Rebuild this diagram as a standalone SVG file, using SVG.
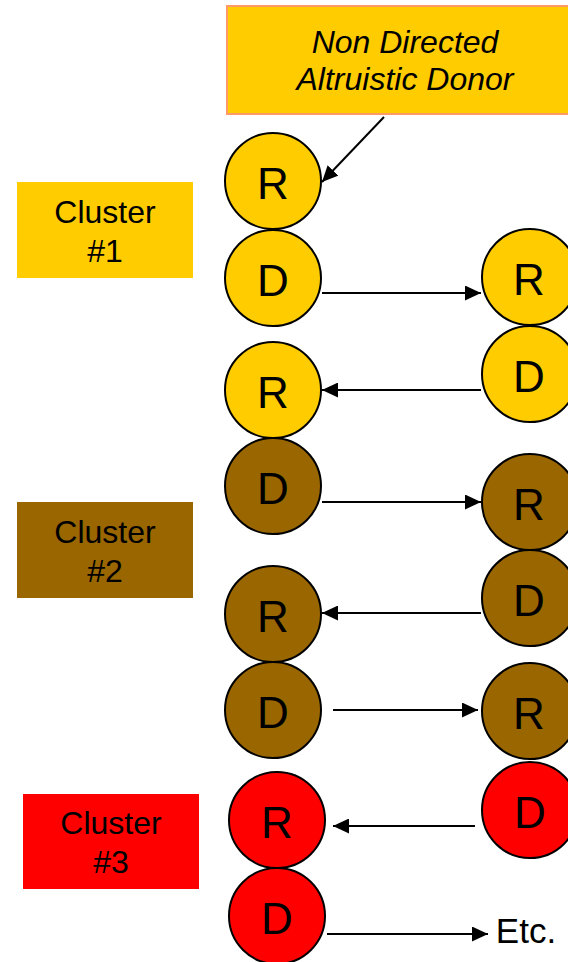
<svg xmlns="http://www.w3.org/2000/svg" width="568" height="962" viewBox="0 0 568 962">
<style>
text{font-family:"Liberation Sans",Arial,sans-serif;fill:#000;text-anchor:middle}
.c{stroke:#000;stroke-width:2}
.y{fill:#ffcc00}.b{fill:#996600}.r{fill:#ff0000}
.lt{font-size:44px}
.cl{font-size:32px}
.a{stroke:#000;stroke-width:2;fill:none;marker-end:url(#ah)}
</style>
<defs>
<marker id="ah" markerUnits="userSpaceOnUse" markerWidth="16" markerHeight="15" refX="16" refY="7.5" orient="auto" viewBox="0 0 16 15">
<path d="M0,0 L16,7.5 L0,15 z" fill="#000"/>
</marker>
</defs>
<rect width="568" height="962" fill="#fff"/>
<g id="ndad">
<rect x="227" y="6" width="345" height="108" fill="#ffcc00" stroke="#ff9966" stroke-width="2"/>
<text x="405" y="53" font-size="32" font-style="italic">Non Directed</text>
<text x="405" y="90" font-size="32" font-style="italic">Altruistic Donor</text>
</g>
<g id="cluster1"><rect x="17" y="182" width="176" height="96" class="y"/><text x="105" y="223" class="cl">Cluster</text><text x="105" y="262" class="cl">#1</text></g>
<g id="cluster2"><rect x="17" y="502" width="176" height="96" class="b"/><text x="105" y="543" class="cl">Cluster</text><text x="105" y="582" class="cl">#2</text></g>
<g id="cluster3"><rect x="23" y="794" width="176" height="95" class="r"/><text x="111" y="834" class="cl">Cluster</text><text x="111" y="873" class="cl">#3</text></g>
<g id="n1"><circle cx="273" cy="181" r="48" class="c y"/><text x="273" y="199" class="lt">R</text></g>
<g id="n2"><circle cx="273" cy="278" r="48" class="c y"/><text x="273" y="296" class="lt">D</text></g>
<g id="n3"><circle cx="530" cy="277" r="48" class="c y"/><text x="529" y="295" class="lt">R</text></g>
<g id="n4"><circle cx="530" cy="374" r="48" class="c y"/><text x="529" y="392" class="lt">D</text></g>
<g id="n5"><circle cx="273" cy="390" r="48" class="c y"/><text x="273" y="408" class="lt">R</text></g>
<g id="n6"><circle cx="273" cy="486" r="48" class="c b"/><text x="273" y="504" class="lt">D</text></g>
<g id="n7"><circle cx="530" cy="502" r="48" class="c b"/><text x="529" y="520" class="lt">R</text></g>
<g id="n8"><circle cx="530" cy="598" r="48" class="c b"/><text x="529" y="616" class="lt">D</text></g>
<g id="n9"><circle cx="273" cy="614" r="48" class="c b"/><text x="273" y="632" class="lt">R</text></g>
<g id="n10"><circle cx="273" cy="710" r="48" class="c b"/><text x="273" y="728" class="lt">D</text></g>
<g id="n11"><circle cx="530" cy="711" r="48" class="c b"/><text x="529" y="729" class="lt">R</text></g>
<g id="n12"><circle cx="530" cy="810" r="48" class="c r"/><text x="530" y="828" class="lt">D</text></g>
<g id="n13"><circle cx="277" cy="820" r="48" class="c r"/><text x="277" y="838" class="lt">R</text></g>
<g id="n14"><circle cx="277" cy="916" r="48" class="c r"/><text x="277" y="934" class="lt">D</text></g>
<g id="etc"><text x="526" y="943" font-size="35">Etc.</text></g>
<g id="connectors">
<line x1="384" y1="117" x2="322" y2="182" class="a"/>
<line x1="322" y1="293" x2="481" y2="293" class="a"/>
<line x1="481" y1="390" x2="322" y2="390" class="a"/>
<line x1="322" y1="502" x2="481" y2="502" class="a"/>
<line x1="481" y1="613" x2="322" y2="613" class="a"/>
<line x1="333" y1="710" x2="478" y2="710" class="a"/>
<line x1="475" y1="826" x2="333" y2="826" class="a"/>
<line x1="327" y1="934" x2="488" y2="934" class="a"/>
</g>
</svg>
